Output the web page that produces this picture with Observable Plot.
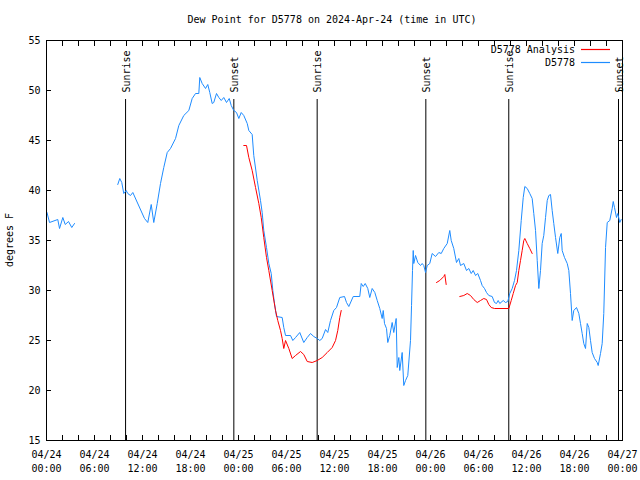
<!DOCTYPE html>
<html><head><meta charset="utf-8">
<script src="https://cdn.jsdelivr.net/npm/d3@7"></script>
<script src="https://cdn.jsdelivr.net/npm/@observablehq/plot@0.6"></script>
<style>
body{margin:0;background:#fff;}
#wrap{position:relative;width:640px;height:480px;font-family:"DejaVu Sans Mono",monospace;font-size:10px;color:#000;}
.t{position:absolute;white-space:pre;line-height:12px;}
.sw{position:absolute;}
</style></head><body><div id="wrap"></div>
<script>
const titleText = "Dew Point for D5778 on 2024-Apr-24 (time in UTC)";
const yLabelText = "degrees F";
const seriesNames = ["D5778 Analysis", "D5778"];
const seriesColors = ["#ff0000", "#1e8cff"];
const startTime = "2024-04-24T00:00Z";
const endTime = "2024-04-27T00:00Z";
const yTicks = [15, 20, 25, 30, 35, 40, 45, 50, 55];

// D5778 observations: hours since 04/24 00:00 UTC, and dew point (F)
const obsHoursA = [0.06,0.38,1.41,1.63,2.04,2.34,2.75,3.16,3.5];
const obsValuesA = [37.8,36.8,37.1,36.2,37.3,36.6,36.9,36.3,36.7];
const obsHoursB = [8.91,9.16,9.41,9.66,9.96,10.16,10.5,10.79,12.25,12.66,13.09,13.41,13.84,14.25,14.66,15.09,15.5,16.13,16.54,17.16,17.79,18.21,18.63,19.04,19.16,19.46,19.88,20.16,20.41,20.71,20.91,21.25,21.54,21.84,22.16,22.5,22.84,23.09,23.41,23.75,24.04,24.34,24.66,25.09,25.29,25.71,25.91,26.34,26.75,26.96,27.16,27.5,27.79,28.09,28.29,28.5,28.75,29.46,29.66,29.88,30.5,30.79,31.13,31.66,32.16,32.59,33.0,33.41,33.84,34.16,34.46,34.88,35.16,35.5,35.91,36.25,36.66,37.25,37.5,37.79,38.34,39.16,39.34,39.59,39.84,40.16,40.41,40.71,41.04,41.34,41.66,41.96,42.09,42.25,42.5,42.66,42.91,43.21,43.41,43.71,43.84,44.04,44.16,44.46,44.66,44.88,45.16,45.5,45.63,45.75,45.84,45.91,46.13,46.41,46.75,46.96,47.16,47.38,47.59,47.91,48.21,48.63,49.04,49.34,49.66,50.09,50.41,50.59,50.91,51.25,51.54,51.75,52.16,52.5,52.79,53.09,53.34,53.63,53.91,54.25,54.46,54.75,55.0,55.29,55.71,56.0,56.25,56.46,56.66,57.09,57.38,57.66,57.91,58.21,58.5,58.75,59.04,59.34,59.59,59.79,60.09,60.41,60.71,60.91,61.13,61.34,61.54,61.75,61.96,62.16,62.38,62.59,62.79,63.0,63.21,63.41,63.63,63.91,64.16,64.34,64.46,64.75,65.09,65.29,65.5,65.71,65.91,66.25,66.54,66.75,66.96,67.16,67.38,67.59,67.79,68.0,68.21,68.5,68.84,68.96,69.25,69.46,69.66,69.88,70.09,70.41,70.71,70.84,71.0,71.25,71.41,71.66,71.84];
const obsValuesB = [40.6,41.2,40.8,39.7,40.0,39.7,39.5,39.8,37.2,36.8,38.6,36.8,38.7,40.7,42.3,43.8,44.2,45.2,46.5,47.5,48.0,49.2,49.7,49.7,51.3,50.7,50.2,50.6,49.8,48.7,48.8,49.7,49.3,49.0,49.3,48.8,49.2,48.5,48.0,47.8,47.2,47.8,47.5,46.7,46.0,45.6,43.5,41.0,39.0,37.8,36.0,34.3,32.7,31.7,30.0,28.7,27.4,27.3,26.3,25.5,25.5,25.0,25.3,25.8,24.8,25.3,25.7,25.4,25.2,25.0,25.2,26.1,25.8,27.0,28.0,28.3,29.3,29.4,28.8,28.4,29.4,29.4,30.7,30.4,30.7,30.2,29.3,30.2,29.8,29.0,28.2,27.2,28.0,26.7,26.2,24.8,25.5,26.8,25.8,27.2,22.3,23.3,22.0,23.8,20.5,21.0,21.5,25.0,28.5,32.0,34.0,32.7,33.5,32.8,32.5,32.7,32.5,31.8,32.5,32.7,33.7,33.4,33.8,33.7,34.2,34.7,36.0,35.0,34.2,32.8,33.2,32.5,32.7,32.0,32.2,31.7,32.0,31.5,31.7,31.0,30.5,30.2,29.8,29.5,29.4,28.8,28.7,29.0,28.7,29.0,28.8,28.9,29.7,30.2,31.0,32.0,34.0,37.0,39.3,40.4,40.2,39.7,39.2,37.7,36.0,33.0,30.2,32.0,34.7,35.5,37.3,39.0,39.5,39.6,38.0,36.7,35.3,33.7,35.3,35.7,34.0,33.3,32.7,32.0,29.7,27.0,28.0,28.3,27.7,26.7,25.7,24.7,24.2,26.7,26.3,25.0,23.8,23.2,22.8,22.5,23.7,24.7,27.7,34.3,36.8,37.0,38.2,38.9,38.3,37.3,37.7,36.8,37.1];

// D5778 Analysis
const anaHoursA = [24.66,25.0,25.29,25.71,26.13,26.54,26.84,27.16,27.5,27.79,28.21,28.63,28.91,29.25,29.46,29.66,29.88,30.29,30.71,31.13,31.75,32.16,32.59,33.21,33.84,34.46,35.09,35.71,36.13,36.41,36.66,36.84];
const anaValuesA = [44.5,44.5,43.3,42.0,40.3,38.7,37.3,35.3,33.3,32.0,30.0,28.0,27.0,26.0,25.2,24.2,25.0,24.2,23.2,23.5,23.9,23.6,22.9,22.8,23.0,23.3,23.8,24.3,25.0,26.0,27.3,28.0];
const anaHoursB = [48.75,49.16,49.66,49.79,49.96];
const anaValuesB = [30.8,31.0,31.4,31.6,30.6];
const anaHoursC = [51.66,52.16,52.59,53.0,53.41,53.84,54.25,54.66,55.0,55.29,55.59,56.0,57.79,58.09,58.34,58.63,58.84,59.04,59.25,59.46,59.66,59.79,60.09,60.41,60.71];
const anaValuesC = [29.4,29.5,29.7,29.5,29.1,28.8,29.0,29.2,29.1,28.6,28.3,28.2,28.2,29.0,29.7,30.5,30.8,32.0,33.0,34.0,35.0,35.2,34.7,34.2,33.7];

const eventTimes = ["2024-04-24T09:53Z","2024-04-24T23:25Z","2024-04-25T09:50Z","2024-04-25T23:25Z","2024-04-26T09:47Z","2024-04-26T23:30Z"];
const eventLabels = ["Sunrise","Sunset","Sunrise","Sunset","Sunrise","Sunset"];

const t0 = new Date(startTime), t1 = new Date(endTime);
const toRows = (hours, vals, seg) => hours.map((h, i) => ({t: new Date(+t0 + h * 3600e3), v: vals[i], seg}));
const obs = [...toRows(obsHoursA, obsValuesA, "a"), ...toRows(obsHoursB, obsValuesB, "b")];
const ana = [...toRows(anaHoursA, anaValuesA, "a"), ...toRows(anaHoursB, anaValuesB, "b"), ...toRows(anaHoursC, anaValuesC, "c")];
const events = eventTimes.map((s, i) => ({t: new Date(s), label: eventLabels[i]}));
const ticks2h = d3.utcHour.every(2).range(t0, new Date(+t1 + 1));
const ticks6h = d3.utcHour.every(6).range(t0, new Date(+t1 + 1));
const fmtA = d3.utcFormat("%m/%d"), fmtB = d3.utcFormat("%H:%M");

const chart = Plot.plot({
  width: 640, height: 480,
  marginLeft: 46, marginRight: 18, marginTop: 40, marginBottom: 40,
  style: {fontFamily: "DejaVu Sans Mono, monospace", fontSize: "10px", background: "white", color: "black"},
  x: {type: "utc", domain: [t0, t1]},
  y: {domain: [15, 55]},
  marks: [
    Plot.axisX(ticks2h, {anchor: "bottom", tickSize: -5, tickFormat: () => "", label: null}),
    Plot.axisX(ticks2h, {anchor: "top", tickSize: -5, tickFormat: () => "", label: null}),
    Plot.axisX(ticks6h, {anchor: "bottom", tickSize: 0, tickPadding: 8, lineHeight: 1.4, tickFormat: d => fmtA(d) + "\n" + fmtB(d), label: null, fill: "black"}),
    Plot.axisY(yTicks, {anchor: "left", tickSize: -5, tickPadding: 11, label: null, fill: "black"}),
    Plot.axisY(yTicks, {anchor: "right", tickSize: -5, tickFormat: () => "", label: null}),
    Plot.ruleX(events, {x: "t", y1: 15, y2: 49.1, stroke: "black"}),
    Plot.text(events, {x: "t", y: 49.8, text: "label", rotate: -90, textAnchor: "start", lineAnchor: "middle", dx: 1, fill: "black"}),
    Plot.line(obs, {x: "t", y: "v", z: "seg", stroke: seriesColors[1], strokeWidth: 1}),
    Plot.line(ana, {x: "t", y: "v", z: "seg", stroke: seriesColors[0], strokeWidth: 1}),
    Plot.frame({stroke: "black"})
  ]
});
const wrap = document.getElementById("wrap");
wrap.appendChild(chart);
function addText(txt, css) { const d = document.createElement("div"); d.className = "t"; d.textContent = txt; Object.assign(d.style, css); wrap.appendChild(d); return d; }
addText(titleText, {left: "332px", top: "14px", transform: "translateX(-50%)"});
addText(yLabelText, {left: "10px", top: "240px", transform: "translate(-50%,-50%) rotate(-90deg)"});
const NS = "http://www.w3.org/2000/svg";
seriesNames.forEach((name, i) => {
  addText(name, {right: "65px", top: (44 + i * 13) + "px"});
  const svg = document.createElementNS(NS, "svg");
  svg.setAttribute("class", "sw"); svg.setAttribute("width", "30"); svg.setAttribute("height", "3");
  Object.assign(svg.style, {left: "581px", top: (48 + i * 13) + "px"});
  const ln = document.createElementNS(NS, "line");
  ln.setAttribute("x1", "0"); ln.setAttribute("x2", "29"); ln.setAttribute("y1", "1.5"); ln.setAttribute("y2", "1.5");
  ln.setAttribute("stroke", seriesColors[i]); ln.setAttribute("stroke-width", "1.2");
  svg.appendChild(ln);
  wrap.appendChild(svg);
});
</script></body></html>
